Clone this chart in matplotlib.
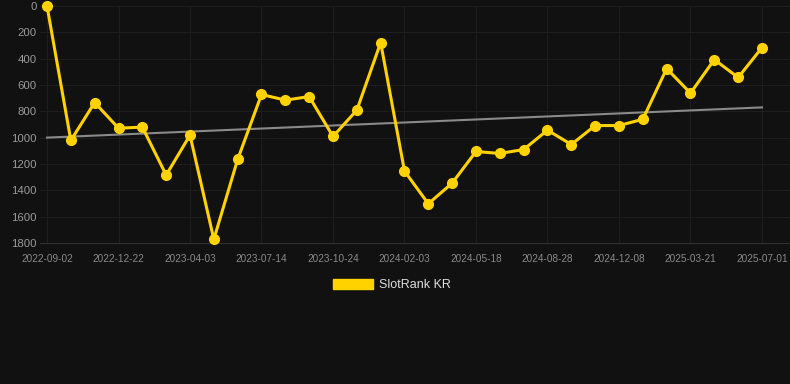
import numpy as np
import matplotlib
matplotlib.use("Agg")
import matplotlib.pyplot as plt
from matplotlib.patches import Patch

plt.rcParams['font.family'] = ['Liberation Sans', 'DejaVu Sans']

# SlotRank KR, roughly monthly points
tick_labels = ['2022-09-02', '2022-12-22', '2023-04-03', '2023-07-14', '2023-10-24',
               '2024-02-03', '2024-05-18', '2024-08-28', '2024-12-08', '2025-03-21',
               '2025-07-01']
rank = [0, 1021, 733, 928, 920, 1284, 981, 1772, 1165, 672,
        715, 688, 991, 791, 278, 1254, 1502, 1345, 1105, 1120,
        1090, 943, 1052, 908, 908, 860, 475, 662, 407, 543,
        316]

bg = '#111111'
gold = '#FFD200'

x = np.arange(len(rank))
fig = plt.figure(figsize=(7.9, 3.84), dpi=100, facecolor=bg)
ax = fig.add_axes([40/790, 1 - 243/384, 750/790, 237/384])
ax.set_facecolor(bg)

# trend line (least squares)
k, b = np.polyfit(x, rank, 1)
ax.plot(x, k*x + b, color='#8a8a8a', lw=1.5, zorder=2)

ax.plot(x, rank, color=gold, lw=2.2, marker='o', ms=7, zorder=3, clip_on=False)

ax.set_xlim(-7/23.83, 30 + 28/23.83)
ax.set_ylim(1800, 0)
ax.set_yticks(range(0, 1801, 200))
ax.set_xticks(x[::3])
ax.set_xticklabels(tick_labels)

ax.grid(True, color='#1e1e1e', lw=0.8)
ax.set_axisbelow(True)
for s in ax.spines.values():
    s.set_visible(False)
ax.spines['bottom'].set_visible(True)
ax.spines['bottom'].set_color('#303030')
ax.spines['bottom'].set_linewidth(0.8)
ax.tick_params(axis='y', length=0, colors='#9a9a9a', labelsize=8.2, pad=2.5)
ax.tick_params(axis='x', length=0, colors='#8a8a8a', labelsize=7.2, pad=8)

fig.legend(handles=[Patch(facecolor=gold, edgecolor=gold, label='SlotRank KR')],
           loc='center', bbox_to_anchor=(392/790, 1 - 285/384), frameon=False,
           fontsize=9, labelcolor='#dddddd', handlelength=3.2, handleheight=0.95,
           handletextpad=0.45)

fig.savefig('out.png', dpi=100, facecolor=bg)
